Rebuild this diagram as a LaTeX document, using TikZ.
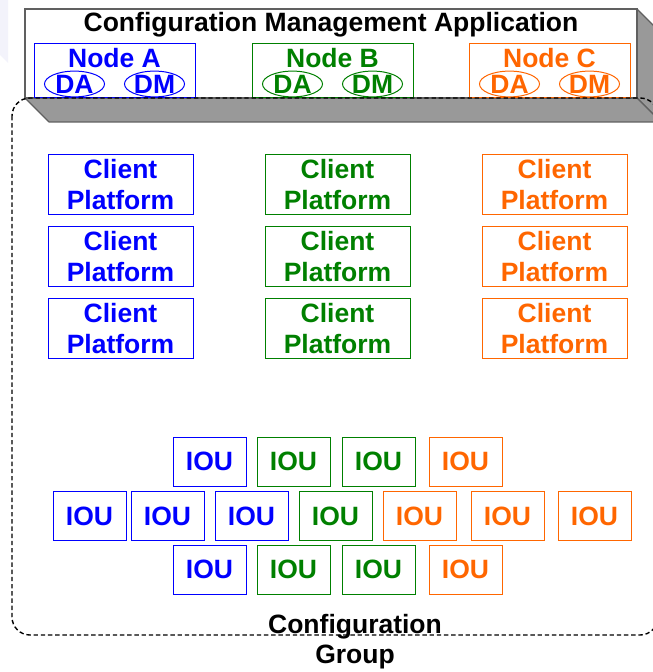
\documentclass[tikz,border=0pt]{standalone}
\usepackage{fontspec}
\setmainfont{Liberation Sans}
\usetikzlibrary{shapes.geometric}
\definecolor{cblue}{RGB}{0,0,255}
\definecolor{cgreen}{RGB}{0,128,0}
\definecolor{corange}{RGB}{255,102,0}
\definecolor{boxgray}{RGB}{153,153,153}
\definecolor{edgegray}{RGB}{96,96,96}
\definecolor{lav}{RGB}{243,243,251}
\begin{document}
\begin{tikzpicture}[x=0.5pt,y=-0.5pt,
  txt/.style={font=\fontsize{13.25pt}{15.5pt}\selectfont\bfseries, inner sep=0pt},
  clientbox/.style={txt, draw, line width=0.5pt, minimum width=72.5pt, minimum height=30pt, align=center},
  ioubox/.style={txt, draw, line width=0.5pt, minimum width=36.5pt, minimum height=24.5pt},
  nodebox/.style={draw, line width=0.5pt, minimum width=80.5pt, minimum height=27pt, inner sep=0pt},
  agent/.style={txt, ellipse, draw, line width=0.5pt, minimum width=30pt, minimum height=12.5pt, inner sep=0pt},
  face/.style={fill=boxgray, draw=edgegray, line width=0.6pt, line join=round},
  grpline/.style={draw=black, line width=0.7pt, dash pattern=on 2.2pt off 1.4pt, rounded corners=9pt}]
\useasboundingbox (0,0) rectangle (652,672);
\fill[lav] (0,0) -- (8,0) -- (8,63) -- (0,55) -- cycle;
% 3D application box
\filldraw[face] (637,9) -- (661,33) -- (661,122) -- (637,98) -- cycle;
\filldraw[face] (25,98) -- (637,98) -- (661,122) -- (49,122) -- cycle;
\node[draw=edgegray, fill=white, line width=0.8pt, minimum width=306pt, minimum height=44.5pt, inner sep=0pt] (front) at (331,53.5) {};
\node[txt, anchor=base] (title) at (331,32) {Configuration Management Application};
% node boxes
\node[nodebox, cblue] (na) at (114.5,71) {};
\node[nodebox, cgreen] (nb) at (332.5,71) {};
\node[nodebox, corange] (nc) at (549.5,71) {};
\node[txt, cblue, anchor=base] (nal) at (114.5,68) {Node A};
\node[txt, cgreen, anchor=base] (nbl) at (332.5,68) {Node B};
\node[txt, corange, anchor=base] (ncl) at (549.5,68) {Node C};
\node[agent, cblue] (nada) at (74.5,84) {DA};
\node[agent, cblue] (nadm) at (154.5,84) {DM};
\node[agent, cgreen] (nbda) at (292.5,84) {DA};
\node[agent, cgreen] (nbdm) at (372.5,84) {DM};
\node[agent, corange] (ncda) at (509.5,84) {DA};
\node[agent, corange] (ncdm) at (589.5,84) {DM};
% client platforms
\foreach \y [count=\r] in {185,257,329} {
  \node[clientbox, cblue] (cpa\r) at (120.5,\y) {Client\\Platform};
  \node[clientbox, cgreen] (cpb\r) at (337.5,\y) {Client\\Platform};
  \node[clientbox, corange] (cpc\r) at (554.5,\y) {Client\\Platform};
}
% IOUs
\foreach \x/\c [count=\i] in {209.5/cblue,293.5/cgreen,378.5/cgreen,465.5/corange} {
  \node[ioubox, \c] (ioua\i) at (\x,461.5) {IOU};
  \node[ioubox, \c] (iouc\i) at (\x,569.5) {IOU};
}
\foreach \x/\c [count=\i] in {89.5/cblue,167.5/cblue,251.5/cblue,335.5/cgreen,419.5/corange,507.5/corange,594.5/corange} {
  \node[ioubox, \c] (ioub\i) at (\x,516) {IOU};
}
% configuration group
\path[grpline] (12,98) rectangle (658,635);
\node[txt, anchor=base] (cg1) at (355,633) {Configuration};
\node[txt, anchor=base] (cg2) at (355,663) {Group};
\end{tikzpicture}
\end{document}
